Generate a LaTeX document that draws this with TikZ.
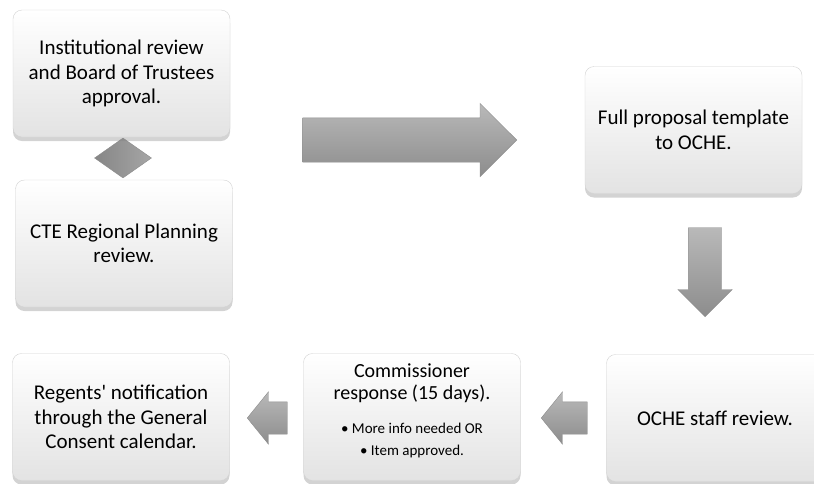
\documentclass[tikz,border=0pt]{standalone}
\usepackage{fontspec}
\setmainfont{Carlito}
\usetikzlibrary{shapes.geometric,shapes.arrows,shadows}

\newcommand{\bulletfont}{\fontsize{15}{18}\selectfont}

\begin{document}
\begin{tikzpicture}[x=1pt,y=-1pt,
    stepbox/.style = {rectangle,rounded corners=9pt,minimum width=217pt,minimum height=127pt,
      align=center,top color=white,bottom color=gray!22,draw=gray!35,
      drop shadow={shadow xshift=0pt,shadow yshift=-4pt,opacity=0.35},
      font=\fontsize{21}{24.5}\selectfont},
    blockarrow/.style = {single arrow,single arrow head indent=0pt,inner xsep=0pt,anchor=tip,
      top color=gray!55,bottom color=gray!90,draw=gray!90},
    joint/.style = {diamond,inner sep=0pt,minimum width=57pt,minimum height=40pt,
      left color=gray!95,right color=gray!70,draw=gray!90}]
    \useasboundingbox (0,0) rectangle (814,483);

    % left column
    \node[joint](link) at (123,158) {};
    \node[stepbox](institution) at (121.5,73.5) {Institutional review\\and Board of Trustees\\approval.};
    \node[stepbox](cteReview) at (124,243.5) {CTE Regional Planning\\review.};

    % right column
    \node[stepbox](fullProposal) at (693.5,130) {Full proposal template\\to OCHE.};
    \node[stepbox](ocheReview) at (715,418) {OCHE staff review.};

    % bottom row
    \node[stepbox,font=\fontsize{20}{21.5}\selectfont,text depth=15pt](commissioner) at (412,417) {Commissioner\\response (15 days).\\[13pt]
      \bulletfont • More info needed OR\\\bulletfont • Item approved.};
    \node[stepbox](regents) at (121,417) {Regents\textquotesingle{} notification\\through the General\\Consent calendar.};

    % block arrows (placed by their tips)
    \node[blockarrow,inner ysep=22pt,minimum height=214pt,single arrow head extend=14.5pt](toProposal) at (517,140) {};
    \node[blockarrow,rotate=-90,inner ysep=16.5pt,minimum height=89pt,single arrow head extend=10.5pt](toStaff) at (705,317) {};
    \node[blockarrow,rotate=180,inner ysep=16pt,minimum height=46pt,single arrow head extend=10pt,single arrow tip angle=102](toCommissioner) at (541,418) {};
    \node[blockarrow,rotate=180,inner ysep=16pt,minimum height=40pt,single arrow head extend=10pt,single arrow tip angle=102](toRegents) at (247,418) {};
\end{tikzpicture}
\end{document}
